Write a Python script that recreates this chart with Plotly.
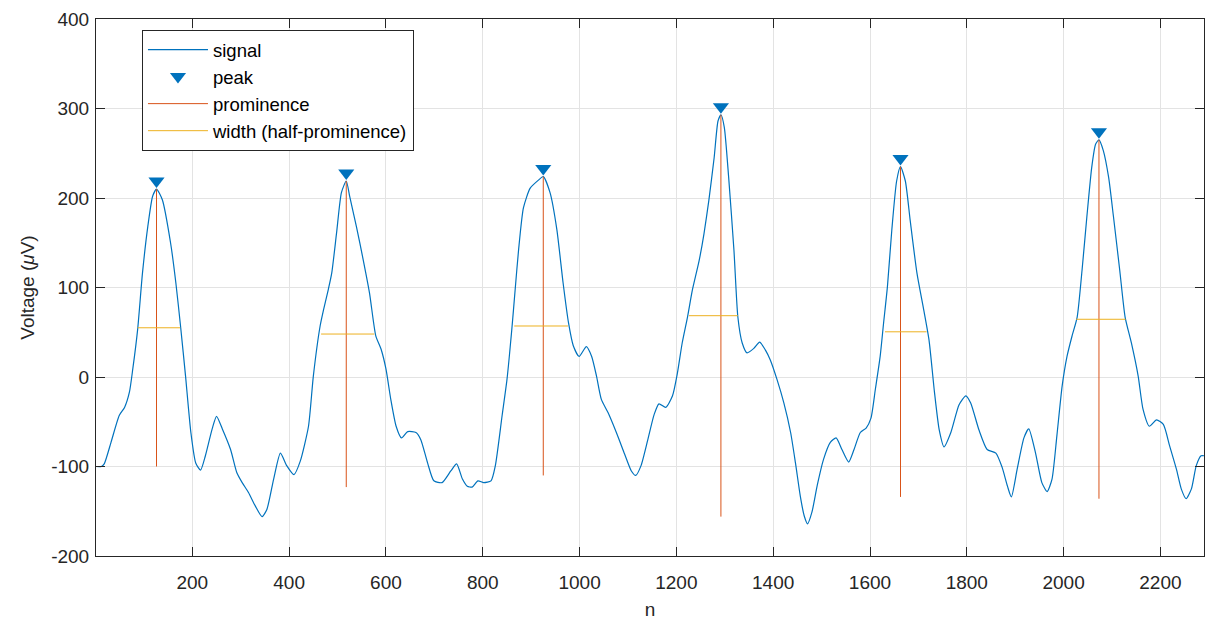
import plotly.graph_objects as go

# ---- data ----
sig_n = [1, 12, 18, 32, 49, 60, 70, 77, 87, 97, 108, 118, 126, 138, 155, 166, 176, 186, 197, 207,
         217, 227, 241, 250, 262, 279, 292, 303, 316, 330, 344, 354, 368, 382, 395, 410, 423, 440,
         450, 464, 471, 481, 488, 498, 508, 518, 525, 539, 553, 566, 579, 590, 600, 610, 621, 632,
         645, 662, 672, 686, 699, 716, 734, 746, 758, 768, 778, 790, 802, 817, 826, 840, 850, 860,
         867, 874, 884, 898, 915, 925, 939, 953, 966, 977, 987, 999, 1014, 1025, 1035, 1045, 1059,
         1076, 1093, 1107, 1116, 1127, 1141, 1154, 1164, 1178, 1192, 1202, 1212, 1223, 1233, 1247,
         1257, 1267, 1278, 1286, 1292, 1299, 1308, 1319, 1327, 1336, 1346, 1360, 1372, 1384, 1394,
         1408, 1422, 1436, 1446, 1456, 1464, 1471, 1480, 1491, 1504, 1518, 1530, 1542, 1556, 1567,
         1580, 1592, 1602, 1611, 1621, 1628, 1636, 1645, 1655, 1663, 1673, 1683, 1697, 1711, 1722,
         1733, 1743, 1753, 1767, 1784, 1798, 1808, 1825, 1842, 1860, 1873, 1884, 1892, 1904, 1918,
         1928, 1942, 1955, 1966, 1976, 1986, 1997, 2007, 2017, 2028, 2038, 2048, 2058, 2066, 2073,
         2082, 2093, 2103, 2116, 2127, 2140, 2154, 2164, 2177, 2192, 2206, 2219, 2233, 2243, 2253,
         2264, 2274, 2284, 2290]
sig_v = [-100, -100, -97, -73, -43, -34, -17, 9, 53, 116, 168, 202, 210, 198, 150, 105, 55, 1, -62, -96,
         -104, -88, -58, -44, -58, -81, -107, -118, -129, -144, -156, -148, -114, -85, -99, -109, -94, -55,
         1, 57, 75, 98, 116, 161, 206, 219, 202, 168, 131, 94, 46, 31, 9, -25, -55, -68,
         -61, -62, -70, -96, -116, -118, -105, -97, -114, -122, -123, -116, -118, -116, -99, -43, -3, 53,
         98, 142, 189, 211, 220, 224, 206, 165, 105, 61, 35, 23, 34, 23, 1, -25, -40,
         -62, -86, -105, -110, -99, -70, -42, -30, -34, -21, 4, 38, 67, 97, 130,
         160, 197, 245, 286, 293, 279, 223, 141, 67, 38, 27, 32, 39, 30, 19,
         -3, -29, -62, -96, -133, -155, -164, -151, -121, -92, -73, -68, -81, -95, -81,
         -62, -57, -46, -14, 23, 60, 101, 164, 219, 235, 219, 175, 116, 75, 41,
         -16, -59, -78, -62, -31, -21, -29, -59, -81, -85, -101, -122, -134, -103, -68,
         -58, -85, -118, -128, -114, -66, -10, 23, 45, 67, 119, 179, 234, 260, 265,
         253, 223, 179, 119, 67, 38, 1, -36, -55, -48, -53, -77, -103, -125, -136,
         -125, -99, -88, -88]

peak_n = [126, 518, 925, 1292, 1663, 2073]
peak_v = [210, 219, 224, 293, 235, 265]
prom_base = [-100, -123, -110, -156, -134, -136]
width_left = [87, 466, 865, 1226, 1631, 2026]
width_right = [175, 576, 976, 1327, 1717, 2128]

x_ticks = [200, 400, 600, 800, 1000, 1200, 1400, 1600, 1800, 2000, 2200]
y_ticks = [-200, -100, 0, 100, 200, 300, 400]
y_tick_text = ["-200", "-100", "0", "100", "200", "300", "400"]

# ---- styles ----
C_SIG = "#0072BD"
C_PROM = "#D95319"
C_WID = "#EDB120"
AX = "#262626"
GRID = "#e3e3e3"
FONT = "Liberation Sans, Arial, Helvetica, sans-serif"
MARK_OFFSET = 9

prom_x, prom_y = [], []
for n, v, b in zip(peak_n, peak_v, prom_base):
    prom_x += [n, n, None]
    prom_y += [b, v, None]
wid_x, wid_y = [], []
for l, r, v, b in zip(width_left, width_right, peak_v, prom_base):
    h = (v + b) / 2
    wid_x += [l, r, None]
    wid_y += [h, h, None]

fig = go.Figure()
fig.add_trace(go.Scatter(x=sig_n, y=sig_v, mode="lines", name="signal", legendgroup="a",
                         line=dict(color=C_SIG, width=1.2, shape="spline", smoothing=0.6)))
fig.add_trace(go.Scatter(x=peak_n, y=[v + MARK_OFFSET for v in peak_v], mode="markers", name="peak",
                         legendgroup="b",
                         marker=dict(symbol="triangle-down", size=14, color=C_SIG)))
fig.add_trace(go.Scatter(x=prom_x, y=prom_y, mode="lines", name="prominence", legendgroup="c",
                         line=dict(color=C_PROM, width=1)))
fig.add_trace(go.Scatter(x=wid_x, y=wid_y, mode="lines", name="width (half-prominence)", legendgroup="d",
                         line=dict(color=C_WID, width=1)))

axis_common = dict(showline=True, linecolor=AX, linewidth=1, mirror="ticks", ticks="inside",
                   ticklen=9, tickcolor=AX, showgrid=True, gridcolor=GRID, gridwidth=1,
                   zeroline=False, automargin=False, tickfont=dict(family=FONT, size=19, color=AX))

fig.update_layout(
    width=1206, height=620,
    margin=dict(l=96, r=2, t=19, b=64),
    paper_bgcolor="white", plot_bgcolor="white",
    font=dict(family=FONT, color=AX),
    xaxis=dict(range=[1, 2290], tickvals=x_ticks, ticklabelstandoff=9,
               title=dict(text="n", font=dict(family=FONT, size=19, color=AX), standoff=10),
               **axis_common),
    yaxis=dict(range=[-200, 400], tickvals=y_ticks, ticktext=y_tick_text, ticklabelstandoff=2,
               title=dict(text="Voltage (<i>μ</i>V)", font=dict(family=FONT, size=19, color=AX), standoff=11),
               **axis_common),
    legend=dict(x=0.0415, y=0.9795, xanchor="left", yanchor="top", bgcolor="white",
                bordercolor=AX, borderwidth=1, itemwidth=60, tracegroupgap=0,
                font=dict(family=FONT, size=18.5, color="#000000")),
    showlegend=True,
)

fig.write_html("out.html", config={"displayModeBar": False},
               post_script="document.body.style.margin='0';document.body.style.overflow='hidden';")
